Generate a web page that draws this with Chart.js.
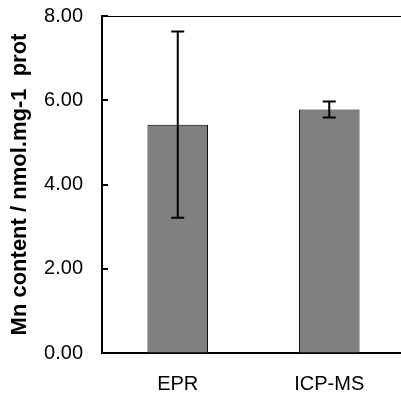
<!DOCTYPE html>
<html>
<head>
<meta charset="utf-8">
<script src="https://cdn.jsdelivr.net/npm/chart.js@4"></script>
<style>
  html, body { margin: 0; padding: 0; background: #fff; overflow: hidden; }
  #wrap { width: 405px; height: 393px; }
</style>
</head>
<body>
<div id="wrap"><canvas id="mnChart" width="405" height="393"></canvas></div>
<script>
// data
const methods = ["EPR", "ICP-MS"];
const mnContent = [5.42, 5.78];
const mnError = [2.21, 0.19];
const yTicks = [0, 2, 4, 6, 8];

// error bars + inside tick marks + top frame line
const extras = {
  id: "extras",
  afterDatasetsDraw(chart) {
    const { ctx, scales, chartArea } = chart;
    const x = scales.x, y = scales.y;
    ctx.save();
    ctx.strokeStyle = "#000";
    ctx.lineWidth = 2;
    mnContent.forEach((v, i) => {
      const px = x.getPixelForValue(i);
      const hi = y.getPixelForValue(v + mnError[i]);
      const lo = y.getPixelForValue(v - mnError[i]);
      ctx.beginPath();
      ctx.moveTo(px, hi); ctx.lineTo(px, lo);
      ctx.moveTo(px - 6.5, hi); ctx.lineTo(px + 6.5, hi);
      ctx.moveTo(px - 6.5, lo); ctx.lineTo(px + 6.5, lo);
      ctx.stroke();
    });
    yTicks.forEach(t => {
      const py = Math.round(y.getPixelForValue(t));
      ctx.beginPath();
      ctx.moveTo(chartArea.left, py); ctx.lineTo(chartArea.left + 6, py);
      ctx.stroke();
    });
    ctx.lineWidth = 1;
    ctx.beginPath();
    ctx.moveTo(chartArea.left, chartArea.top + 0.5);
    ctx.lineTo(chartArea.right, chartArea.top + 0.5);
    ctx.stroke();
    ctx.restore();
  }
};

const ctx = document.getElementById("mnChart").getContext("2d");
new Chart(ctx, {
  type: "bar",
  data: {
    labels: methods,
    datasets: [{
      data: mnContent,
      backgroundColor: "#808080",
      borderColor: "#000",
      borderWidth: 1,
      barPercentage: 0.4,
      categoryPercentage: 1
    }]
  },
  options: {
    responsive: false,
    animation: false,
    layout: { padding: { top: 16, left: 0, right: 0, bottom: 0 } },
    plugins: { legend: { display: false }, tooltip: { enabled: false } },
    scales: {
      x: {
        grid: { display: false },
        border: { display: true, color: "#000", width: 2 },
        ticks: { color: "#000", font: { family: "Liberation Sans, Arial", size: 20 }, padding: 11 },
        afterFit(s) { s.height = 40; s.paddingLeft = 0; s.paddingRight = 0; }
      },
      y: {
        min: 0,
        max: 8,
        afterBuildTicks(s) { s.ticks = yTicks.map(v => ({ value: v })); },
        grid: { drawOnChartArea: false, drawTicks: false },
        border: { display: true, color: "#000", width: 2 },
        ticks: {
          color: "#000",
          padding: 19,
          font: { family: "Liberation Sans, Arial", size: 20 },
          callback: v => Number(v).toFixed(2)
        },
        title: {
          display: true,
          text: "Mn content / nmol.mg-1  prot",
          color: "#000",
          font: { family: "Liberation Sans, Arial", size: 22, weight: "bold" },
          padding: { top: 7, bottom: 0 }
        },
        afterFit(s) { s.width = 102; s.paddingTop = 0; s.paddingBottom = 0; }
      }
    }
  },
  plugins: [extras]
});
</script>
</body>
</html>
